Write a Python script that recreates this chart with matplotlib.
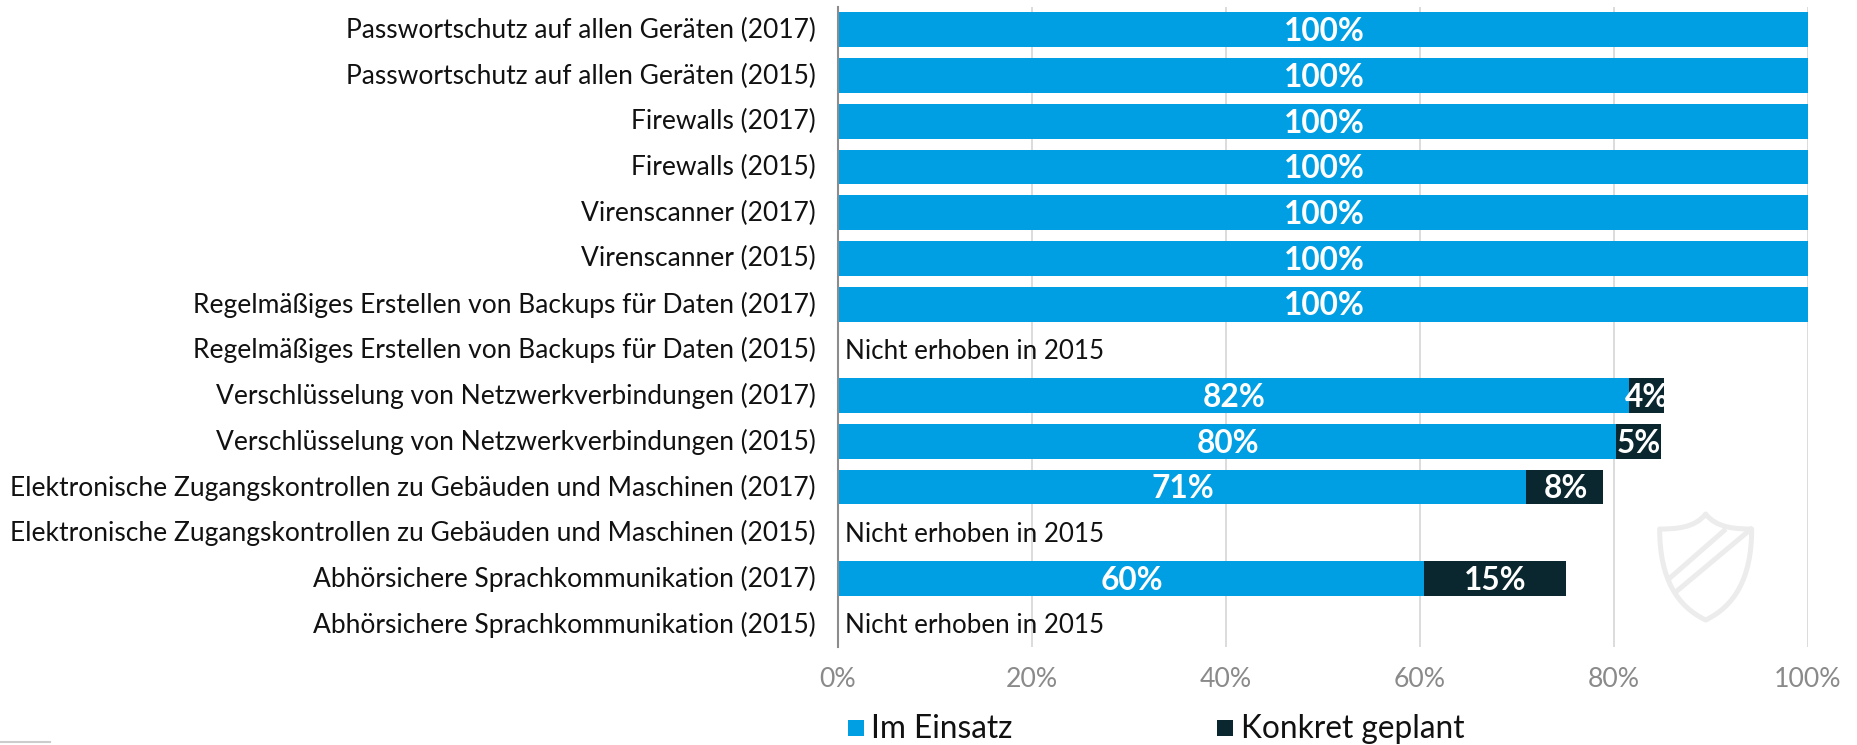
import matplotlib
matplotlib.use("Agg")
import matplotlib.pyplot as plt
from matplotlib.path import Path
from matplotlib.patches import PathPatch, Rectangle
from matplotlib.lines import Line2D
from matplotlib.transforms import Affine2D, ScaledTranslation

plt.rcParams['font.family'] = ['Lato', 'DejaVu Sans']

categories = [
    "Passwortschutz auf allen Geräten (2017)",
    "Passwortschutz auf allen Geräten (2015)",
    "Firewalls (2017)",
    "Firewalls (2015)",
    "Virenscanner (2017)",
    "Virenscanner (2015)",
    "Regelmäßiges Erstellen von Backups für Daten (2017)",
    "Regelmäßiges Erstellen von Backups für Daten (2015)",
    "Verschlüsselung von Netzwerkverbindungen (2017)",
    "Verschlüsselung von Netzwerkverbindungen (2015)",
    "Elektronische Zugangskontrollen zu Gebäuden und Maschinen (2017)",
    "Elektronische Zugangskontrollen zu Gebäuden und Maschinen (2015)",
    "Abhörsichere Sprachkommunikation (2017)",
    "Abhörsichere Sprachkommunikation (2015)",
]
im_einsatz = [100, 100, 100, 100, 100, 100, 100, None, 81.5, 80.2, 70.9, None, 60.4, None]
geplant = [0, 0, 0, 0, 0, 0, 0, None, 3.7, 4.6, 8.0, None, 14.6, None]
im_labels = ["100%"] * 7 + [None, "82%", "80%", "71%", None, "60%", None]
gep_labels = [None] * 7 + [None, "4%", "5%", "8%", None, "15%", None]
ticks = [0, 20, 40, 60, 80, 100]
tick_labels = ["0%", "20%", "40%", "60%", "80%", "100%"]
legend_names = ["Im Einsatz", "Konkret geplant"]
missing_text = "Nicht erhoben in 2015"

BLUE = "#009fe3"
DARK = "#0a2730"
W, H = 1857, 745
fig = plt.figure(figsize=(W / 100, H / 100), dpi=100, facecolor="white")
ax = fig.add_axes([838 / W, 1 - 647 / H, 970 / W, 640 / H])
ax.set_xlim(0, 100)
ax.set_ylim(len(categories) - 0.5, -0.5)
for s in ["top", "right", "bottom"]:
    ax.spines[s].set_visible(False)
ax.spines["left"].set_color("#8c8c8c")
ax.spines["left"].set_linewidth(1.5)
ax.set_axisbelow(True)
ax.grid(axis="x", color="#dcdcdc", lw=1.4)
ax.set_xticks(ticks, tick_labels)
ax.set_yticks(range(len(categories)), categories)
ax.tick_params(axis="both", length=0)
ax.tick_params(axis="x", labelsize=19.2, labelcolor="#8a8a8a", pad=14.5)
ax.tick_params(axis="y", labelsize=19.0, labelcolor="#111111", pad=16)
lift = ScaledTranslation(0, 2 / 100, fig.dpi_scale_trans)
for lab in ax.get_yticklabels():
    lab.set_transform(lab.get_transform() + lift)

for i, cat in enumerate(categories):
    if im_einsatz[i] is None:
        ax.text(0.7, i + 0.03, missing_text, va="center", ha="left", fontsize=18.75, color="#111111")
        continue
    ax.barh(i, im_einsatz[i], height=0.765, color=BLUE)
    ax.text(im_einsatz[i] / 2 + 0.1, i + 0.04, im_labels[i], color="white", weight="bold",
            fontsize=22.8, ha="center", va="center")
    if geplant[i]:
        ax.barh(i, geplant[i], left=im_einsatz[i], height=0.765, color=DARK)
        ax.text(im_einsatz[i] + geplant[i] / 2 + 0.1, i + 0.04, gep_labels[i], color="white", weight="bold",
                fontsize=22.8, ha="center", va="center")

# Pixel-positioned overlays (top-left origin)
px = Affine2D().scale(1, -1).translate(0, H)

# Shield watermark
ox, oy = 1500, 480
def z(x, y):
    return (ox + x / 3, oy + y / 3)
verts = [z(617, 102), z(650, 145), z(710, 147), z(755, 147),
         z(755, 300), z(700, 380), z(617, 420),
         z(534, 380), z(479, 300), z(479, 147),
         z(524, 147), z(584, 145), z(617, 102), z(617, 102)]
codes = [Path.MOVETO, Path.CURVE4, Path.CURVE4, Path.LINETO,
         Path.CURVE4, Path.CURVE4, Path.CURVE4,
         Path.CURVE4, Path.CURVE4, Path.LINETO,
         Path.CURVE4, Path.CURVE4, Path.CURVE4, Path.CLOSEPOLY]
fig.add_artist(PathPatch(Path(verts, codes), fc="none", ec="#ececec", lw=3.6,
                         joinstyle="round", transform=px))
for a, b in [((512, 292), (672, 152)), ((532, 332), (752, 148))]:
    p, q = z(*a), z(*b)
    fig.add_artist(Line2D([p[0], q[0]], [p[1], q[1]], color="#ececec", lw=3.6, transform=px))

# Legend
for (sx, tx, color, name) in [(848, 871, BLUE, legend_names[0]), (1217, 1241, DARK, legend_names[1])]:
    fig.add_artist(Rectangle((sx, 720), 16, 16, fc=color, ec="none", transform=px))
    fig.text(tx, 729, name, transform=px, fontsize=22.8, color="#111111", va="center", ha="left")

# Small rule bottom-left
fig.add_artist(Line2D([0, 50], [742, 742], color="#cccccc", lw=1.5, transform=px))

fig.savefig("out.png", dpi=100)
